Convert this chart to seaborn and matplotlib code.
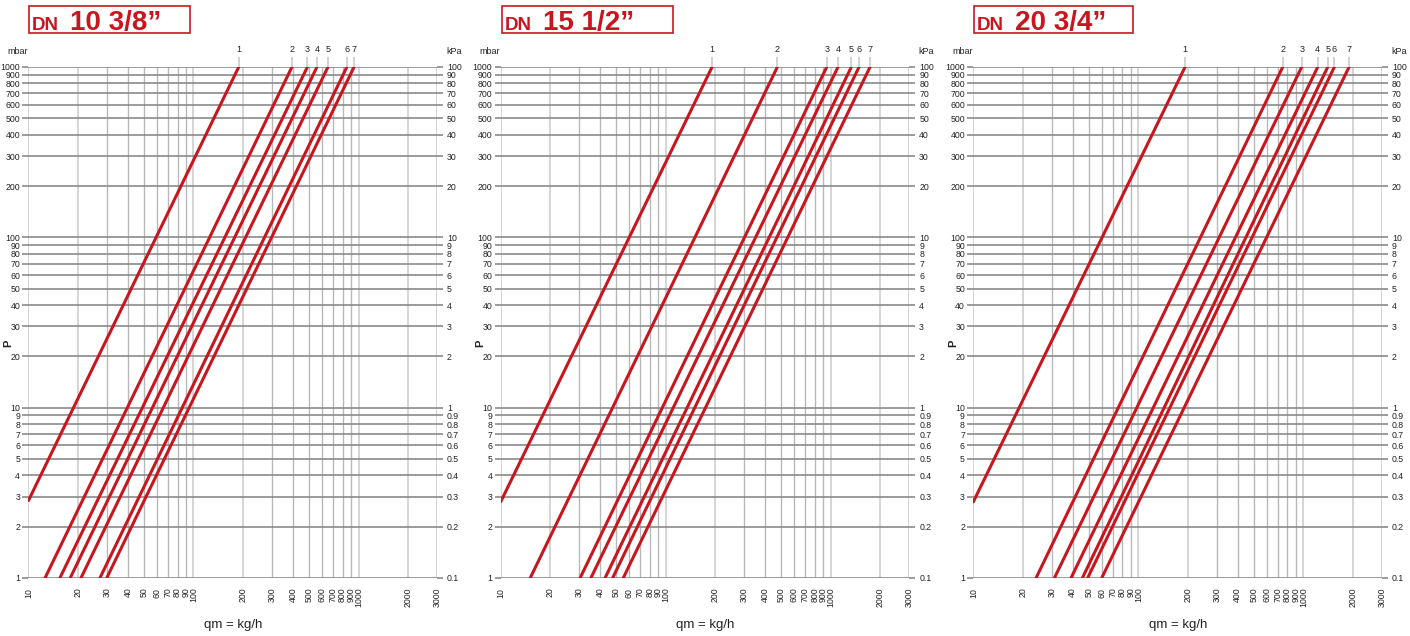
import numpy as np
import pandas as pd
import seaborn as sns
import matplotlib.pyplot as plt
from matplotlib.patches import Rectangle

sns.set_theme(style="white")
plt.rcParams['font.family'] = ['Liberation Sans', 'DejaVu Sans']

RED = "#c8161e"
HGRID = "#8a8a8a"
TXT = "#222222"

# Panel titles
sizes = ["10", "15", "20"]
inches = ["3/8\u201d", "1/2\u201d", "3/4\u201d"]
curves = ["1", "2", "3", "4", "5", "6", "7"]

# Start point of each curve (q in kg/h, P in mbar) and q at P = 1000 mbar
q_start_10 = [10, 12.6, 15.5, 17.9, 20.8, 27.1, 29.8]
p_start_10 = [2.85, 1, 1, 1, 1, 1, 1]
q_end_10 = [188, 395, 490, 560, 653, 850, 940]

q_start_15 = [10, 15.1, 30.3, 35.2, 42.9, 47.7, 55.3]
p_start_15 = [2.8, 1, 1, 1, 1, 1, 1]
q_end_15 = [191, 475, 946, 1107, 1333, 1485, 1731]

q_start_20 = [10, 24.0, 31.0, 39.1, 45.8, 49.3, 60.0]
p_start_20 = [2.8, 1, 1, 1, 1, 1, 1]
q_end_20 = [192, 750, 977, 1222, 1405, 1542, 1893]
p_end = 1000

# Axis ticks
x_ticks = [10, 20, 30, 40, 50, 60, 70, 80, 90, 100,
           200, 300, 400, 500, 600, 700, 800, 900, 1000, 2000, 3000]
x_light = [10, 20, 100, 200, 1000, 2000, 3000]
y_ticks = [1, 2, 3, 4, 5, 6, 7, 8, 9, 10, 20, 30, 40, 50, 60, 70, 80, 90,
           100, 200, 300, 400, 500, 600, 700, 800, 900, 1000]
kpa_labels = [f"{v / 10:g}" for v in y_ticks]

panels = [
    (sizes[0], inches[0], q_start_10, p_start_10, q_end_10),
    (sizes[1], inches[1], q_start_15, p_start_15, q_end_15),
    (sizes[2], inches[2], q_start_20, p_start_20, q_end_20),
]

W, H = 1410, 636
fig = plt.figure(figsize=(14.1, 6.36), dpi=100)
lefts = [0.0202, 0.3551, 0.6903]
box_x = [29, 502, 974]
box_w = [161, 171, 159]

for k, (dn, inch, qs, ps, qe) in enumerate(panels):
    ax = fig.add_axes([lefts[k], 0.0912, 0.2899, 0.8035])
    rows = []
    for c, a, b, e in zip(curves, qs, ps, qe):
        rows.append({"curve": c, "q": a, "p": b})
        rows.append({"curve": c, "q": e, "p": p_end})
    df = pd.DataFrame(rows)

    ax.set_xscale("log")
    ax.set_yscale("log")
    ax.set_xlim(10, 3000)
    ax.set_ylim(1, 1000)

    for x in x_ticks:
        col = "#d2d2d2" if x in x_light else "#b9b9b9"
        ax.axvline(x, color=col, lw=1.3 if x in x_light else 1.0, zorder=0)
    for y in y_ticks:
        ax.axhline(y, color=HGRID, lw=1.2, zorder=1)

    sns.lineplot(data=df, x="q", y="p", units="curve", estimator=None,
                 sort=False, color=RED, lw=2.2, ax=ax, legend=False, zorder=3)

    for s in ax.spines.values():
        s.set_visible(False)
    ax.set_xlabel("")
    ax.set_ylabel("")
    ax.xaxis.set_minor_locator(plt.NullLocator())
    ax.yaxis.set_minor_locator(plt.NullLocator())
    ax.set_xticks(x_ticks, labels=[str(v) for v in x_ticks], rotation=90)
    ax.set_yticks(y_ticks, labels=[str(v) for v in y_ticks])
    ax.tick_params(axis="x", length=0, labelsize=6.3, pad=7, labelcolor=TXT)
    ax.tick_params(axis="y", length=4, width=1.2, color=HGRID, labelsize=6.3,
                   pad=2, labelcolor=TXT)

    ax2 = ax.twinx()
    ax2.set_yscale("log")
    ax2.set_ylim(1, 1000)
    ax2.yaxis.set_minor_locator(plt.NullLocator())
    ax2.set_yticks(y_ticks, labels=kpa_labels)
    ax2.tick_params(axis="y", length=4, width=1.2, color=HGRID, labelsize=6.3,
                    pad=3, labelcolor=TXT)
    for s in ax2.spines.values():
        s.set_visible(False)

    top = ax.secondary_xaxis("top")
    top.set_xscale("log")
    top.xaxis.set_minor_locator(plt.NullLocator())
    top.set_xticks(qe, labels=curves)
    top.tick_params(length=7, width=1.2, color="#c8c8c8", labelsize=6.5,
                    pad=2, labelcolor=TXT)
    for s in top.spines.values():
        s.set_visible(False)

    ax.text(-0.052, 1.022, "mbar", transform=ax.transAxes, fontsize=6.5,
            ha="left", va="bottom", color=TXT)
    ax.text(1.022, 1.022, "kPa", transform=ax.transAxes, fontsize=6.5,
            ha="left", va="bottom", color=TXT)
    ax.text(-0.05, 0.46, "P", transform=ax.transAxes, fontsize=8,
            fontweight="bold", rotation=90, ha="center", va="center",
            color=TXT)
    ax.text(0.5, -0.092, "qm = kg/h", transform=ax.transAxes, fontsize=9.5,
            ha="center", va="center", color=TXT)

    # Title box
    x0 = box_x[k]
    fig.patches.append(Rectangle((x0 / W, 1 - 33 / H), box_w[k] / W, 27 / H,
                                 transform=fig.transFigure, fill=False,
                                 ec=RED, lw=1.2))
    t = fig.text((x0 + 3) / W, 1 - 30 / H, "DN", fontsize=13.5,
                 fontweight="bold", color=RED, va="baseline", ha="left")
    fig.canvas.draw()
    bb = t.get_window_extent()
    fig.text((bb.x1 + 11) / W, 1 - 30 / H, f"{dn} {inch}", fontsize=20,
             fontweight="bold", color=RED, va="baseline", ha="left")

fig.savefig("out.png", dpi=100)
